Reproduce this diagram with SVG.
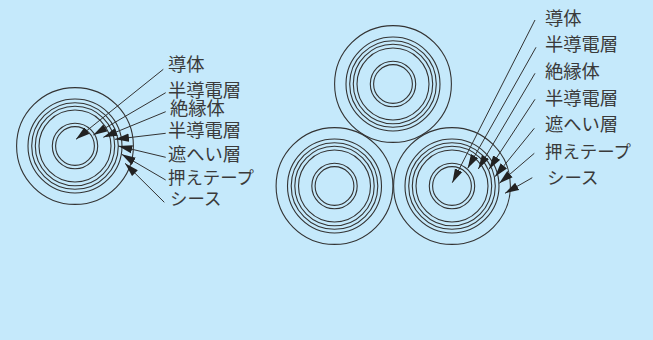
<svg xmlns="http://www.w3.org/2000/svg" width="653" height="340" viewBox="0 0 653 340">
<style>
.r{fill:none;stroke:#333;stroke-width:1.1}
.c line{stroke:#333;stroke-width:1;marker-end:url(#a)}
text{font-family:"Noto Sans CJK JP","Noto Sans",sans-serif;font-size:18.3px;fill:#3a3a3a}
text.s{font-size:17.4px}
</style>
<defs>
<marker id="a" markerUnits="userSpaceOnUse" markerWidth="15" markerHeight="9" refX="14" refY="4.5" orient="auto"><path d="M0 0.4L14 4.5L0 8.6Z" fill="#222"/></marker>
<g id="cable">
<circle class="r" r="58.4"/><circle class="r" r="47"/><circle class="r" r="43.3"/><circle class="r" r="39.7"/><circle class="r" r="36"/><circle class="r" r="22.7"/><circle class="r" r="19.4"/>
</g>
</defs>
<rect width="653" height="340" fill="#c5e9fb"/>
<g id="cable-left"><use href="#cable" x="75" y="146"/></g>
<g id="cable-top"><use href="#cable" x="393" y="84"/></g>
<g id="cable-bottom-left"><use href="#cable" x="334.5" y="186"/></g>
<g id="cable-bottom-right"><use href="#cable" x="452" y="186"/></g>
<g id="connectors" class="c">
<line x1="163.3" y1="69.3" x2="76" y2="139.3"/>
<line x1="165.7" y1="92.7" x2="93.3" y2="135"/>
<line x1="165.7" y1="111.7" x2="103.3" y2="137.3"/>
<line x1="165.7" y1="133.3" x2="115" y2="139.3"/>
<line x1="165.7" y1="157.3" x2="118.3" y2="146"/>
<line x1="165.7" y1="180" x2="121.7" y2="154.3"/>
<line x1="164.3" y1="202.3" x2="125" y2="163.3"/>
<line x1="535" y1="20" x2="452.3" y2="182.7"/>
<line x1="536" y1="47.3" x2="467.7" y2="168.3"/>
<line x1="535" y1="73.3" x2="478.3" y2="169"/>
<line x1="535" y1="99.3" x2="489" y2="169.3"/>
<line x1="534.3" y1="128.3" x2="495" y2="176.7"/>
<line x1="534.3" y1="153.3" x2="499.3" y2="183.3"/>
<line x1="532.3" y1="177.7" x2="505" y2="193.3"/>
</g>
<g id="labels-left">
<text x="168" y="71">導体</text>
<text x="168" y="96.5">半導電層</text>
<text x="170" y="115">絶縁体</text>
<text x="168" y="136.5">半導電層</text>
<text x="168" y="160.5">遮へい層</text>
<text class="s" x="168" y="183.5">押えテープ</text>
<text class="s" x="170" y="205">シース</text>
</g>
<g id="labels-right">
<text x="545" y="24.5">導体</text>
<text x="545" y="50.5">半導電層</text>
<text x="545" y="77.5">絶縁体</text>
<text x="545" y="104.5">半導電層</text>
<text x="545" y="131">遮へい層</text>
<text class="s" x="545" y="157.5">押えテープ</text>
<text class="s" x="547" y="183.5">シース</text>
</g>
</svg>
